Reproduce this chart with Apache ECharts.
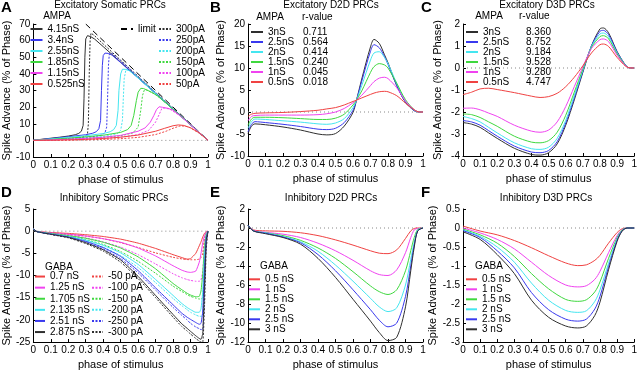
<!DOCTYPE html>
<html>
<head>
<meta charset="utf-8">
<script src="https://cdn.jsdelivr.net/npm/echarts@6/dist/echarts.min.js"></script>
<style>
  html, body { margin: 0; background: #fff; }
  #chart { width: 640px; height: 371px; }
</style>
</head>
<body>
<div id="chart"></div>
<script>
// ---- panel A: excitatory somatic PRCs, [phase, advance] ----
const aSolidNames = ['4.15nS', '3.4nS', '2.55nS', '1.85nS', '1.15nS', '0.525nS']
const aSolid = [
  [[0,0],[0.05,0.7],[0.1,1.3],[0.15,1.9],[0.2,2.6],[0.24,3.4],[0.26,4.2],[0.275,5.5],[0.285,9],[0.29,25],[0.295,50],[0.3,61],[0.31,63],[0.33,62.3],[0.35,61],[0.4,56.4],[0.5,47],[0.6,37.6],[0.7,28.2],[0.8,18.8],[0.9,9.4],[1,0]],
  [[0,0],[0.1,1.1],[0.2,2.2],[0.3,3.4],[0.34,4.3],[0.36,5.2],[0.375,7],[0.385,12],[0.39,30],[0.395,45],[0.4,51],[0.41,52.5],[0.43,52.3],[0.45,51.3],[0.5,46.8],[0.6,37.5],[0.7,28.1],[0.8,18.7],[0.9,9.3],[1,0]],
  [[0,0],[0.1,0.9],[0.2,1.8],[0.3,2.8],[0.4,4.1],[0.44,5.2],[0.46,6.5],[0.475,9],[0.485,18],[0.49,30],[0.5,40],[0.51,42.8],[0.53,42.7],[0.55,41.8],[0.58,39.3],[0.6,37.4],[0.7,28.1],[0.8,18.7],[0.9,9.3],[1,0]],
  [[0,0],[0.1,0.6],[0.2,1.3],[0.3,2.1],[0.4,3.1],[0.5,4.8],[0.54,6.5],[0.56,9],[0.575,15],[0.59,24],[0.6,29],[0.615,31.3],[0.63,31.2],[0.65,30.3],[0.68,28.8],[0.72,26.1],[0.8,18.6],[0.9,9.3],[1,0]],
  [[0,0],[0.1,0.3],[0.2,0.7],[0.3,1.2],[0.4,1.9],[0.5,3.0],[0.6,5.5],[0.64,7.5],[0.67,11],[0.69,15],[0.705,18.5],[0.72,20.2],[0.74,19.9],[0.77,19.3],[0.8,18.2],[0.85,13.9],[0.9,9.3],[1,0]],
  [[0,0],[0.1,0.1],[0.2,0.3],[0.3,0.6],[0.4,1.1],[0.5,1.9],[0.6,3.2],[0.7,5.5],[0.75,7.2],[0.8,8.8],[0.83,9.3],[0.86,9.0],[0.9,7.6],[0.95,4.5],[1,0]]
]
const aDotNames = ['300pA', '250pA', '200pA', '150pA', '100pA', '50pA']
const aDot = [
  [[0,0],[0.1,0.5],[0.2,1.1],[0.27,1.7],[0.3,2.5],[0.31,4],[0.315,10],[0.32,40],[0.325,60],[0.33,64.5],[0.35,63],[0.4,58],[0.5,48.2],[0.6,38.5],[0.7,28.8],[0.8,19.2],[0.9,9.6],[1,0]],
  [[0,0],[0.1,0.4],[0.2,1],[0.3,1.7],[0.38,2.8],[0.41,4.5],[0.42,8],[0.425,25],[0.43,45],[0.435,52],[0.45,52.4],[0.5,47.8],[0.6,38.3],[0.7,28.7],[0.8,19.1],[0.9,9.6],[1,0]],
  [[0,0],[0.1,0.3],[0.2,0.8],[0.3,1.4],[0.4,2.3],[0.48,4],[0.5,6],[0.51,12],[0.515,25],[0.52,37],[0.53,42.5],[0.55,42.5],[0.6,38.1],[0.7,28.6],[0.8,19.1],[0.9,9.5],[1,0]],
  [[0,0],[0.1,0.2],[0.2,0.6],[0.3,1.1],[0.4,1.8],[0.5,2.8],[0.57,4.5],[0.6,8],[0.615,18],[0.625,27],[0.635,30.2],[0.65,30.3],[0.7,27.5],[0.8,19],[0.9,9.5],[1,0]],
  [[0,0],[0.1,0.1],[0.2,0.4],[0.3,0.7],[0.4,1.2],[0.5,2],[0.6,3.5],[0.66,6],[0.7,11],[0.72,15.5],[0.735,19],[0.75,19.4],[0.78,18.9],[0.85,14],[0.9,9.4],[1,0]],
  [[0,0],[0.2,0.1],[0.3,0.3],[0.4,0.6],[0.5,1],[0.6,1.8],[0.7,3.5],[0.76,5.5],[0.8,7.3],[0.84,8.7],[0.87,8.6],[0.9,7.5],[0.95,4.3],[1,0]]
]
const aLimit = [[0.3, 70], [1, 0]]

// ---- panel B: excitatory D2D ----
const bNames = ['3nS', '2.5nS', '2nS', '1.5nS', '1nS', '0.5nS']
const bRvalues = ['0.711', '0.564', '0.414', '0.240', '0.045', '0.018']
const bPhase = [0,0.02,0.04,0.1,0.2,0.3,0.4,0.45,0.5,0.55,0.6,0.62,0.65,0.7,0.72,0.75,0.78,0.8,0.85,0.9,0.95,0.98,1]
const bVals = [
  [-4.9,-3.2,-2.7,-2.9,-3.4,-4.1,-5.0,-5.2,-4.9,-3.2,-0.1,2.7,7.5,14.8,16.5,15.6,13.0,11.2,6.0,2.2,0.3,0,0],
  [-4.5,-2.8,-2.2,-2.4,-2.8,-3.3,-3.9,-4.0,-3.7,-2.4,0.4,2.7,7.0,13.8,15.3,14.6,12.6,10.8,6.0,2.3,0.3,0,0],
  [-3.7,-2.2,-1.6,-1.7,-2.0,-2.3,-2.7,-2.8,-2.5,-1.5,1.0,2.7,6.0,11.8,13.4,13.7,12.4,11.0,6.5,2.5,0.4,0,0],
  [-3.0,-1.6,-1.2,-1.2,-1.3,-1.5,-1.7,-1.7,-1.4,-0.5,1.6,2.7,4.8,9.0,10.3,11.0,10.7,10.0,6.5,2.8,0.5,0,0],
  [-2.0,-1.0,-0.8,-0.7,-0.7,-0.7,-0.6,-0.4,0,0.8,2.1,2.7,3.8,6.0,6.9,7.7,7.9,7.6,5.5,2.5,0.5,0,0],
  [-1.0,-0.5,-0.3,-0.2,-0.1,0.1,0.4,0.7,1.0,1.6,2.4,2.7,3.2,4.0,4.3,4.6,4.7,4.6,3.7,2.0,0.5,0,0]
]

// ---- panel C: excitatory D3D ----
const cRvalues = ['8.360', '8.752', '9.184', '9.528', '9.280', '4.747']
const cPhase = [0,0.05,0.1,0.15,0.2,0.3,0.4,0.45,0.5,0.55,0.6,0.65,0.7,0.75,0.8,0.82,0.85,0.9,0.95,0.97,1]
const cVals = [
  [-2.48,-2.55,-2.7,-2.95,-3.2,-3.65,-3.93,-3.96,-3.85,-3.45,-2.6,-1.45,-0.2,1.0,1.78,1.82,1.6,0.75,0.12,0.01,0],
  [-2.39,-2.45,-2.6,-2.85,-3.1,-3.55,-3.82,-3.85,-3.75,-3.35,-2.5,-1.35,-0.15,1.0,1.67,1.71,1.52,0.72,0.12,0.01,0],
  [-2.2,-2.3,-2.45,-2.7,-2.95,-3.4,-3.67,-3.7,-3.6,-3.2,-2.38,-1.25,-0.1,0.97,1.55,1.59,1.42,0.68,0.11,0.01,0],
  [-2.09,-2.12,-2.25,-2.45,-2.65,-3.1,-3.37,-3.4,-3.3,-2.92,-2.15,-1.1,-0.05,0.93,1.43,1.47,1.33,0.64,0.1,0.01,0],
  [-1.83,-1.82,-1.9,-2.05,-2.2,-2.6,-2.87,-2.92,-2.82,-2.45,-1.75,-0.85,0.05,0.88,1.29,1.32,1.2,0.58,0.09,0.01,0],
  [-1.21,-1.1,-0.95,-0.92,-0.98,-1.12,-1.28,-1.34,-1.3,-1.15,-0.85,-0.42,0.1,0.68,1.06,1.09,0.98,0.48,0.08,0.01,0]
]

// ---- panel D: inhibitory somatic ----
const dSolidNames = ['0.7 nS', '1.25 nS', '1.705 nS', '2.135 nS', '2.51 nS', '2.875 nS']
const dDotNames = ['-50 pA', '-100 pA', '-150 pA', '-200 pA', '-250 pA', '-300 pA']
const dPhase = [0,0.02,0.1,0.2,0.3,0.4,0.5,0.6,0.7,0.8,0.85,0.88,0.9,0.93,0.95,0.96,0.97,0.98,0.99,1]
const dSolid = [
  [0.5,-0.1,-0.3,-0.5,-0.8,-1.2,-1.8,-2.7,-3.9,-5.3,-5.95,-6.3,-6.2,-5.0,-3.3,-2.4,-1.3,-0.5,-0.1,0],
  [0.5,-0.1,-0.4,-0.7,-1.1,-1.7,-2.5,-3.8,-5.6,-7.8,-8.8,-9.2,-9.3,-9.0,-7.0,-5.0,-2.6,-1.0,-0.2,0],
  [0.5,-0.1,-0.5,-1.0,-1.6,-2.5,-3.8,-5.8,-8.5,-11.8,-13.2,-14.0,-14.4,-14.8,-14.7,-13.5,-9.5,-3.5,-0.6,0],
  [0.5,-0.1,-0.6,-1.2,-2.0,-3.2,-4.9,-7.5,-10.9,-14.5,-16.3,-17.2,-17.7,-18.3,-18.3,-17.5,-13.5,-5.5,-1.0,0],
  [0.5,-0.1,-0.65,-1.3,-2.3,-3.7,-5.7,-8.9,-12.8,-16.6,-18.5,-19.4,-19.9,-20.6,-21.0,-20.8,-18.0,-8.5,-1.5,0],
  [0.5,-0.1,-0.7,-1.4,-2.6,-4.2,-6.5,-10.2,-14.5,-18.8,-20.9,-21.9,-22.6,-23.6,-24.2,-24.4,-23.0,-12.0,-2.0,0]
]
const dDot = [
  [0.5,-0.1,-0.35,-0.7,-1.1,-1.7,-2.6,-3.7,-4.9,-5.9,-6.25,-6.4,-6.45,-6.45,-6.3,-6.0,-5.0,-1.5,-0.3,0],
  [0.5,-0.1,-0.45,-0.9,-1.5,-2.4,-3.6,-5.3,-7.4,-9.6,-10.5,-10.9,-11.1,-11.3,-11.3,-11.0,-9.0,-3.0,-0.5,0],
  [0.5,-0.1,-0.55,-1.1,-1.9,-3.0,-4.6,-6.8,-9.5,-12.4,-13.6,-14.3,-14.7,-15.1,-15.3,-15.3,-15.0,-8.0,-1.5,0],
  [0.5,-0.1,-0.6,-1.25,-2.2,-3.6,-5.5,-8.2,-11.6,-15.2,-16.8,-17.7,-18.3,-18.9,-19.2,-19.2,-19.0,-11.0,-2.0,0],
  [0.5,-0.1,-0.7,-1.4,-2.5,-4.0,-6.2,-9.4,-13.3,-17.2,-19.0,-20.0,-20.8,-21.6,-22.0,-22.2,-22.2,-14.0,-3.0,0],
  [0.5,-0.1,-0.75,-1.5,-2.8,-4.5,-7.0,-10.7,-15.0,-19.4,-21.5,-22.5,-23.2,-24.2,-24.8,-25.0,-25.0,-17.0,-4.0,0]
]

// ---- panel E: inhibitory D2D ----
const efNames = ['0.5 nS', '1 nS', '1.5 nS', '2 nS', '2.5 nS', '3 nS']
const ePhase = [0,0.03,0.1,0.2,0.3,0.4,0.5,0.6,0.7,0.75,0.8,0.85,0.9,0.93,0.95,0.97,1]
const eVals = [
  [0.3,-0.2,-0.3,-0.35,-0.5,-0.8,-1.25,-1.8,-2.4,-2.65,-2.7,-2.3,-1.1,-0.3,-0.05,0,0],
  [0.3,-0.25,-0.45,-0.65,-1.0,-1.6,-2.4,-3.4,-4.5,-4.9,-5.0,-4.4,-2.6,-1.0,-0.2,-0.05,0],
  [0.3,-0.3,-0.5,-0.8,-1.3,-2.1,-3.2,-4.6,-6.1,-6.7,-7.0,-6.5,-4.5,-2.4,-1.0,-0.15,0],
  [0.3,-0.3,-0.5,-0.9,-1.45,-2.45,-3.9,-5.6,-7.4,-8.3,-8.8,-8.4,-6.0,-3.3,-1.5,-0.2,0],
  [0.3,-0.3,-0.55,-0.95,-1.55,-2.8,-4.5,-6.5,-8.6,-9.7,-10.4,-10.0,-7.2,-4.0,-1.8,-0.3,0],
  [0.3,-0.3,-0.6,-1.0,-1.7,-3.2,-5.2,-7.5,-9.8,-11.0,-11.85,-11.5,-8.3,-4.5,-2.0,-0.3,0]
]

// ---- panel F: inhibitory D3D ----
const fPhase = [0,0.1,0.2,0.3,0.4,0.5,0.6,0.67,0.72,0.77,0.8,0.85,0.9,0.93,0.96,1]
const fVals = [
  [0.05,-0.08,-0.18,-0.33,-0.52,-0.73,-0.92,-0.99,-0.97,-0.85,-0.72,-0.4,-0.12,-0.02,0,0],
  [0,-0.13,-0.3,-0.55,-0.9,-1.25,-1.5,-1.55,-1.52,-1.35,-1.14,-0.65,-0.2,-0.04,0,0],
  [-0.03,-0.18,-0.4,-0.75,-1.2,-1.6,-1.88,-1.93,-1.89,-1.68,-1.42,-0.8,-0.25,-0.05,0,0],
  [-0.05,-0.22,-0.5,-0.9,-1.45,-1.9,-2.17,-2.22,-2.18,-1.93,-1.63,-0.93,-0.29,-0.06,0,0],
  [-0.07,-0.25,-0.6,-1.05,-1.7,-2.15,-2.4,-2.45,-2.4,-2.13,-1.8,-1.02,-0.32,-0.07,0,0],
  [-0.1,-0.3,-0.7,-1.2,-1.9,-2.35,-2.58,-2.63,-2.58,-2.3,-1.95,-1.1,-0.35,-0.08,0,0]
]

const zeroLine = [[0, 0], [1, 0]]
const yRanges = [[-10, 70, 10], [-10, 20, 5], [-4, 2, 1], [-25, 5, 5], [-12, 2, 2], [-3, 0.5, 0.5]]

const FONT = 'Liberation Sans, Arial, sans-serif'
// strongest conductance first (black) down to weakest (red)
const COLS = ['#2f2f2f', '#3939ee', '#44e6f0', '#3fd83f', '#f043f0', '#f04242']
const DOTTED = [2, 1.5]

const chartDom = document.getElementById('chart')
const myChart = echarts.init(chartDom, null, { renderer: 'canvas' })

const grids = [
  { left: 32, top: 24, width: 176, height: 133 },
  { left: 248, top: 24, width: 175, height: 132 },
  { left: 463, top: 24, width: 175, height: 132 },
  { left: 32, top: 209, width: 176, height: 134 },
  { left: 248, top: 209, width: 175, height: 134 },
  { left: 463, top: 209, width: 175, height: 134 }
]
const yNameGaps = [18, 19, 20, 18, 19, 20]

const xAxis = grids.map((g, i) => ({
  type: 'value', gridIndex: i, min: 0, max: 1, interval: 0.1,
  name: 'phase of stimulus', nameLocation: 'middle', nameGap: 17,
  nameTextStyle: { fontFamily: FONT, fontSize: 11, color: '#000' },
  axisLine: { show: true, onZero: false, lineStyle: { color: '#000', width: 1 } },
  axisTick: { show: true, inside: true, length: 3, lineStyle: { color: '#000' } },
  axisLabel: { fontFamily: FONT, fontSize: 10, color: '#000', margin: 3 },
  splitLine: { show: false }
}))
const yAxis = yRanges.map((r, i) => ({
  type: 'value', gridIndex: i, min: r[0], max: r[1], interval: r[2],
  name: 'Spike Advance (% of Phase)', nameLocation: 'middle', nameGap: yNameGaps[i],
  nameTextStyle: { fontFamily: FONT, fontSize: 11, color: '#000' },
  axisLine: { show: true, onZero: false, lineStyle: { color: '#000', width: 1 } },
  axisTick: { show: true, inside: true, length: 3, lineStyle: { color: '#000' } },
  axisLabel: { fontFamily: FONT, fontSize: 10, color: '#000', margin: 3 },
  splitLine: { show: false }
}))

const series = []
const addLine = (name, gi, data, color, type, smooth) => {
  series.push({
    name, type: 'line', xAxisIndex: gi, yAxisIndex: gi, data,
    symbol: 'none', smooth: smooth || false, clip: true,
    lineStyle: { color, width: 1, type: type || 'solid' },
    itemStyle: { color }
  })
}
const pairs = (ph, v) => ph.map((p, i) => [p, v[i]])

// zero reference lines
for (let i = 0; i < 6; i++) {
  series.push({
    name: 'zero' + i, type: 'line', xAxisIndex: i, yAxisIndex: i, data: zeroLine,
    symbol: 'none', silent: true, z: 1,
    lineStyle: { color: '#888', width: 1, type: [1, 3] }
  })
}

addLine('limit', 0, aLimit, '#000', [6, 4])
aDot.forEach((d, k) => addLine(aDotNames[k], 0, d, COLS[k], DOTTED))
aSolid.forEach((d, k) => addLine(aSolidNames[k], 0, d, COLS[k]))
bVals.forEach((v, k) => addLine(bNames[k], 1, pairs(bPhase, v), COLS[k], 'solid', 0.3))
cVals.forEach((v, k) => addLine(bNames[k], 2, pairs(cPhase, v), COLS[k], 'solid', 0.3))
dDot.forEach((v, k) => addLine(dDotNames[k], 3, pairs(dPhase, v), COLS[5 - k], DOTTED, 0.15))
dSolid.forEach((v, k) => addLine(dSolidNames[k], 3, pairs(dPhase, v), COLS[5 - k], 'solid', 0.15))
eVals.forEach((v, k) => addLine(efNames[k], 4, pairs(ePhase, v), COLS[5 - k], 'solid', 0.3))
fVals.forEach((v, k) => addLine(efNames[k], 5, pairs(fPhase, v), COLS[5 - k], 'solid', 0.3))

// legend icons: only the line sample, no symbol
const legendBase = (data, left, top, w, h, extra) => Object.assign({
  data, left, top, orient: 'vertical', padding: 0, itemGap: 0,
  itemWidth: w, itemHeight: h, selectedMode: false,
  itemStyle: { opacity: 0 },
  textStyle: { fontFamily: FONT, fontSize: 10, color: '#000', lineHeight: h }
}, extra || {})

const richCols = (w) => ({
  n: { width: w, fontFamily: FONT, fontSize: 10, color: '#000' },
  r: { fontFamily: FONT, fontSize: 10, color: '#000' }
})

const legend = [
  legendBase(aSolidNames, 29.5, 23.5, 12, 11),
  legendBase(['limit'], 120, 23.5, 12, 11),
  legendBase(aDotNames, 158, 23.5, 12, 11),
  legendBase(bNames, 250, 27, 12, 9.4, {
    formatter: n => '{n|' + n + '}{r|' + bRvalues[bNames.indexOf(n)] + '}',
    textStyle: { lineHeight: 9.4, rich: richCols(35) }
  }),
  legendBase(bNames, 465, 27, 12, 9.4, {
    formatter: n => '{n|' + n + '}{r|' + cRvalues[bNames.indexOf(n)] + '}',
    textStyle: { lineHeight: 9.4, rich: richCols(43) }
  }),
  legendBase(dSolidNames, 34, 271, 10, 11.1),
  legendBase(dDotNames, 91, 271, 11, 11.1),
  legendBase(efNames, 248, 274.3, 11, 10),
  legendBase(efNames, 465, 274.3, 11, 10)
]

const txt = (text, x, y, opts) => ({
  type: 'text', x, y, silent: true,
  style: Object.assign({
    text, fontFamily: FONT, fontSize: 10, fill: '#000',
    textAlign: 'center', textVerticalAlign: 'middle'
  }, opts || {})
})
const letter = (t, x, y) => txt(t, x, y, { fontSize: 15, fontWeight: 'bold', textAlign: 'left' })

const graphic = [
  letter('A', 1, 8), letter('B', 210, 8), letter('C', 421, 8),
  letter('D', 1, 193), letter('E', 210, 193), letter('F', 421, 193),
  txt('Excitatory Somatic PRCs', 110, 5),
  txt('Excitatory D2D PRCs', 331, 5),
  txt('Excitatory D3D PRCs', 547, 5),
  txt('Inhibitory Somatic PRCs', 114, 198),
  txt('Inhibitory D2D PRCs', 331, 198),
  txt('Inhibitory D3D PRCs', 546, 198),
  txt('AMPA', 57, 16),
  txt('AMPA', 270, 17),
  txt('r-value', 302, 17, { textAlign: 'left' }),
  txt('AMPA', 489, 16),
  txt('r-value', 519, 16, { textAlign: 'left' }),
  txt('GABA', 59, 267),
  txt('GABA', 274, 266),
  txt('GABA', 489, 266)
]

const option = {
  animation: false,
  backgroundColor: '#fff',
  grid: grids,
  xAxis,
  yAxis,
  legend,
  graphic,
  series
}
myChart.setOption(option)
</script>
</body>
</html>
